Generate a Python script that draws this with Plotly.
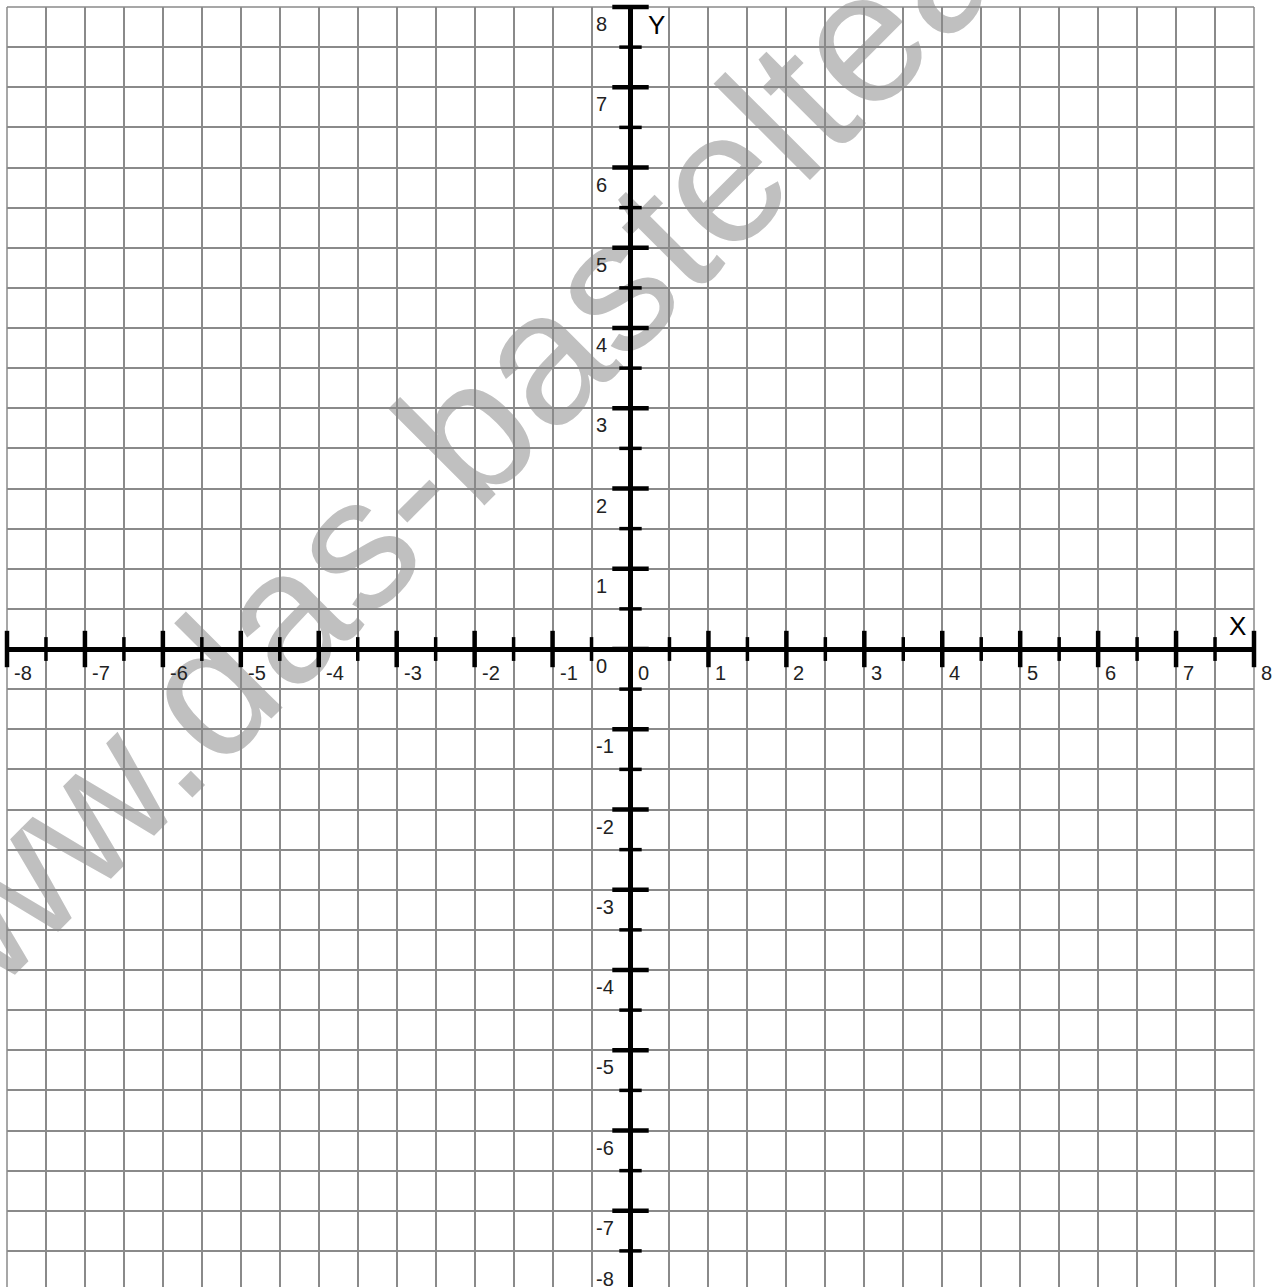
import plotly.graph_objects as go

# ---------------- data ----------------
major_ticks = [-8, -7, -6, -5, -4, -3, -2, -1, 0, 1, 2, 3, 4, 5, 6, 7, 8]
minor_ticks = [-7.5, -6.5, -5.5, -4.5, -3.5, -2.5, -1.5, -0.5,
               0.5, 1.5, 2.5, 3.5, 4.5, 5.5, 6.5, 7.5]
x_tick_labels = ["-8", "-7", "-6", "-5", "-4", "-3", "-2", "-1", "0",
                 "1", "2", "3", "4", "5", "6", "7", "8"]
y_tick_labels = ["-8", "-7", "-6", "-5", "-4", "-3", "-2", "-1", "0",
                 "1", "2", "3", "4", "5", "6", "7", "8"]
axis_titles = ["X", "Y"]
watermark_text = "www.das-bastelteam.de"

X_RANGE = [-8, 8]
Y_RANGE = [-7.95, 8]

FONT = "Liberation Sans, Arial, sans-serif"
W, H = 1279, 1287
ML, MR, MT, MB = 7, 25, 7, 0
GRID_COLOR = "#8a8a8a"
GRID_W = 1.5

fig = go.Figure()

# x-axis tick marks (crossing the axis)
fig.add_trace(go.Scatter(
    x=major_ticks, y=[0] * len(major_ticks), mode="markers",
    marker=dict(symbol="line-ns", size=26, line=dict(width=4.5, color="black")),
    cliponaxis=False, hoverinfo="skip", showlegend=False))
fig.add_trace(go.Scatter(
    x=minor_ticks, y=[0] * len(minor_ticks), mode="markers",
    marker=dict(symbol="line-ns", size=17, line=dict(width=3.5, color="black")),
    cliponaxis=False, hoverinfo="skip", showlegend=False))
# y-axis tick marks
fig.add_trace(go.Scatter(
    x=[0] * len(major_ticks), y=major_ticks, mode="markers",
    marker=dict(symbol="line-ew", size=26, line=dict(width=4.5, color="black")),
    cliponaxis=False, hoverinfo="skip", showlegend=False))
fig.add_trace(go.Scatter(
    x=[0] * len(minor_ticks), y=minor_ticks, mode="markers",
    marker=dict(symbol="line-ew", size=16, line=dict(width=3.5, color="black")),
    cliponaxis=False, hoverinfo="skip", showlegend=False))

annotations = []
label_font = dict(family=FONT, size=20, color="#222222")
for v, t in zip(major_ticks, x_tick_labels):
    annotations.append(dict(x=v, y=0, xref="x", yref="y", text=t, showarrow=False,
                            xanchor="left", yanchor="middle", xshift=5, yshift=-24,
                            font=label_font))
for v, t in zip(major_ticks, y_tick_labels):
    yy, ys = v, -17
    if v < Y_RANGE[0]:
        yy, ys = v + 0.5, -28.5
    annotations.append(dict(x=0, y=yy, xref="x", yref="y", text=t, showarrow=False,
                            xanchor="left", yanchor="middle", xshift=-37, yshift=ys,
                            font=label_font))
annotations.append(dict(x=7.79, y=0.29, xref="x", yref="y", text=axis_titles[0],
                        showarrow=False, xanchor="center", yanchor="middle",
                        font=dict(family=FONT, size=26, color="black")))
annotations.append(dict(x=0.33, y=7.78, xref="x", yref="y", text=axis_titles[1],
                        showarrow=False, xanchor="center", yanchor="middle",
                        font=dict(family=FONT, size=26, color="black")))

# watermark (below the grid)
cx_px, cy_px = 546.5, 326.0
xp = (cx_px - ML) / (W - ML - MR)
yp = (H - MB - cy_px) / (H - MT - MB)
fig.add_shape(type="rect", xref="paper", yref="paper",
              x0=xp - 0.005, x1=xp + 0.005, y0=yp - 0.005, y1=yp + 0.005,
              line=dict(width=0), fillcolor="rgba(0,0,0,0)", layer="below",
              label=dict(text=watermark_text, textangle=-45, textposition="middle center",
                         font=dict(family=FONT, size=188, color="#c0c0c0")))

# outer border of the grid (left, top, right edges)
for x0, y0, x1, y1 in [(0, 0, 0, 1), (0, 1, 1, 1), (1, 0, 1, 1)]:
    fig.add_shape(type="line", xref="paper", yref="paper", x0=x0, y0=y0, x1=x1, y1=y1,
                  line=dict(color=GRID_COLOR, width=GRID_W), layer="below")

axis_common = dict(dtick=0.5, tick0=0, showgrid=True, gridcolor=GRID_COLOR, gridwidth=GRID_W,
                   zeroline=True, zerolinecolor="black", zerolinewidth=4.5,
                   showticklabels=False, ticks="", showline=False, fixedrange=True)
fig.update_layout(
    width=W, height=H,
    margin=dict(l=ML, r=MR, t=MT, b=MB, pad=0),
    paper_bgcolor="white", plot_bgcolor="white",
    showlegend=False,
    xaxis=dict(range=X_RANGE, **axis_common),
    yaxis=dict(range=Y_RANGE, **axis_common),
    annotations=annotations,
)

fig.write_html("out.html", config={"displayModeBar": False},
               post_script="document.body.style.margin='0';document.body.style.overflow='hidden';")
